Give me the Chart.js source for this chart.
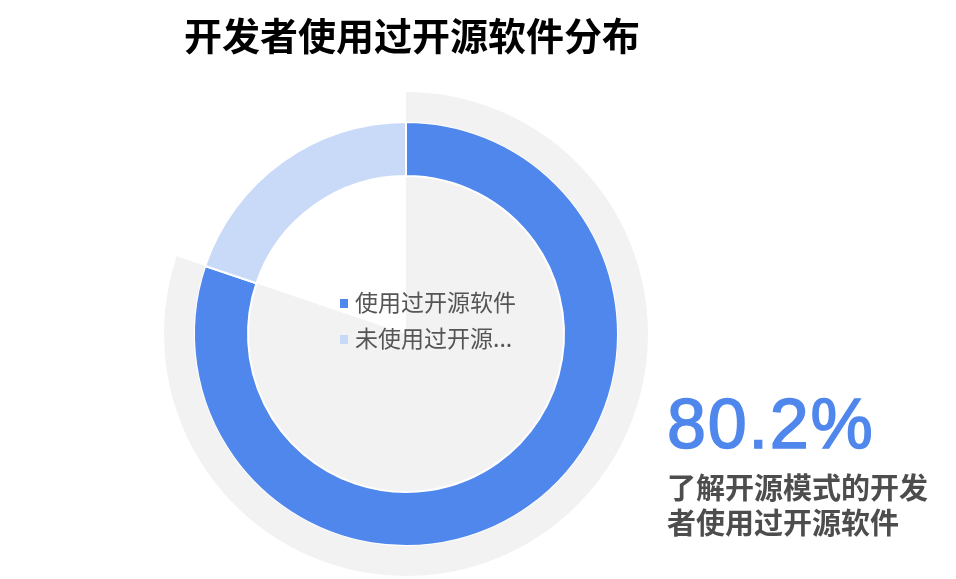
<!DOCTYPE html>
<html>
<head>
<meta charset="utf-8">
<script src="https://cdn.jsdelivr.net/npm/chart.js@4"></script>
<style>
  html, body { margin: 0; padding: 0; background: #fff; }
  #wrap { position: relative; width: 956px; height: 579px; overflow: hidden; }
  #chart { position: absolute; left: 0; top: 0; }
  .title {
    position: absolute; left: 184px; top: 11px;
    font: bold 38px "Noto Sans CJK SC", sans-serif; color: #000; line-height: 46px;
  }
  #legend { position: absolute; left: 340px; top: 283px; font: 23px "Noto Sans CJK SC", sans-serif; color: #555; }
  #legend div { height: 36px; line-height: 36px; white-space: nowrap; }
  #legend span.box { display: inline-block; width: 8px; height: 9px; margin-right: 7px; vertical-align: 3px; }
  .big {
    position: absolute; left: 667px; top: 384px;
    font: 70px "Liberation Sans", Arial, sans-serif; color: #5087ec; line-height: 80px;
    letter-spacing: 1.8px;
    -webkit-text-stroke: 1.6px #5087ec;
  }
  .note {
    position: absolute; left: 667px; top: 469px;
    font: bold 29px "Noto Sans CJK SC", sans-serif; color: #4d4d4d; line-height: 35px;
  }
</style>
</head>
<body>
<div id="wrap">
  <canvas id="chart" width="956" height="579"></canvas>
  <div class="title">开发者使用过开源软件分布</div>
  <div id="legend"></div>
  <div class="big" id="big"></div>
  <div class="note">了解开源模式的开发<br>者使用过开源软件</div>
</div>
<script>
// 数据
const labels = ["使用过开源软件", "未使用过开源软件"];
const shortLabels = ["使用过开源软件", "未使用过开源..."];
const values = [80.2, 19.8];
const colors = ["#5087ec", "#c9daf8"];
const gray = "#f2f2f2";

document.addEventListener("DOMContentLoaded", () => {
  // legend in the middle of the ring
  const legend = document.getElementById("legend");
  shortLabels.forEach((name, i) => {
    const row = document.createElement("div");
    row.innerHTML = '<span class="box" style="background:' + colors[i] + '"></span>' + name;
    legend.appendChild(row);
  });
  document.getElementById("big").textContent = values[0] + "%";

  const ctx = document.getElementById("chart").getContext("2d");
  new Chart(ctx, {
    type: "doughnut",
    data: {
      labels: labels,
      datasets: [
        { // outer grey band
          data: values,
          backgroundColor: [gray, "rgba(0,0,0,0)"],
          borderWidth: 0,
          weight: 30
        },
        { // the ring itself
          data: values,
          backgroundColor: colors,
          borderColor: "#fff",
          borderWidth: 2,
          weight: 54
        },
        { // grey fill inside the hole
          data: values,
          backgroundColor: [gray, "#fff"],
          borderWidth: 0,
          weight: 158
        }
      ]
    },
    options: {
      responsive: false,
      animation: false,
      cutout: 0,
      layout: { padding: { left: 164, right: 308, top: 92, bottom: 3 } },
      plugins: {
        legend: { display: false },
        tooltip: { enabled: false }
      }
    }
  });
});
</script>
</body>
</html>
